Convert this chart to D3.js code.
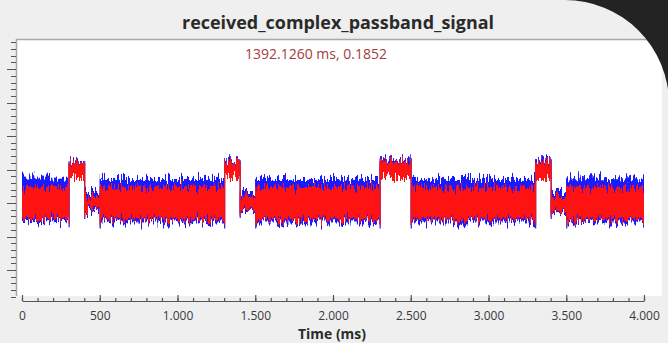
<!DOCTYPE html>
<html>
<head>
<meta charset="utf-8">
<script src="https://cdn.jsdelivr.net/npm/d3@7/dist/d3.min.js"></script>
<style>
  html, body { margin: 0; padding: 0; background: #efefef; overflow: hidden; }
  svg { display: block; }
</style>
</head>
<body>
<svg id="chart" width="668" height="343"></svg>
<script>
// ---- data ----
const title = 'received_complex_passband_signal';
const xLabel = 'Time (ms)';
const marker = '1392.1260 ms, 0.1852';

// signal segments (ms)
const segStart = [0, 300, 400, 500, 1300, 1400, 1500, 2300, 2500, 3300, 3400, 3500];
const segEnd   = [300, 400, 500, 1300, 1400, 1500, 2300, 2500, 3300, 3400, 3500, 4000];
// envelope of each trace per segment
const blueTop = [0.176, 0.225, 0.136, 0.172, 0.228, 0.136, 0.172, 0.234, 0.172, 0.231, 0.133, 0.174];
const blueBot = [0.046, 0.172, 0.070, 0.042, 0.175, 0.073, 0.042, 0.172, 0.042, 0.169, 0.070, 0.042];
const redTop  = [0.148, 0.219, 0.118, 0.148, 0.222, 0.121, 0.148, 0.225, 0.148, 0.222, 0.115, 0.148];
const redBot  = [0.055, 0.172, 0.076, 0.052, 0.175, 0.079, 0.052, 0.172, 0.052, 0.169, 0.076, 0.052];

const xTicks = [0, 500, 1000, 1500, 2000, 2500, 3000, 3500, 4000];
const xTickLabels = ['0', '500', '1.000', '1.500', '2.000', '2.500', '3.000', '3.500', '4.000'];
const yMajor = [-0.1, 0, 0.1, 0.2, 0.3, 0.4, 0.5];

// ---- layout ----
const svg = d3.select('#chart');
const W = 668, H = 343;
const canvas = { x: 17, y: 40, w: 645, h: 256 };

let x = d3.scaleLinear().domain([0, 4000]).range([22, 644]);
let y = d3.scaleLinear().domain([-0.18, 0.587]).range([296.8, 40]);

// defs: jagged-edge filter for the noisy traces
let defs = svg.append('defs');
let jag = defs.append('filter')
  .attr('id', 'jag')
  .attr('filterUnits', 'userSpaceOnUse')
  .attr('x', 0).attr('y', 0).attr('width', W).attr('height', H)
  .attr('color-interpolation-filters', 'sRGB');
jag.append('feTurbulence')
  .attr('type', 'fractalNoise')
  .attr('baseFrequency', '0.7 0.06')
  .attr('numOctaves', 2)
  .attr('seed', 3)
  .attr('result', 'noise');
jag.append('feColorMatrix')
  .attr('in', 'noise')
  .attr('type', 'matrix')
  .attr('values', '0 0 0 0 0.5  0 1.6 0 0 -0.3  0 0 0 0 0  0 0 0 0 1')
  .attr('result', 'ymap');
jag.append('feDisplacementMap')
  .attr('in', 'SourceGraphic')
  .attr('in2', 'ymap')
  .attr('scale', 14)
  .attr('xChannelSelector', 'R')
  .attr('yChannelSelector', 'G');

// canvas
svg.append('rect')
  .attr('x', canvas.x).attr('y', canvas.y)
  .attr('width', canvas.w).attr('height', canvas.h)
  .attr('fill', '#ffffff');

// traces
let segs = d3.range(segStart.length);
let plot = svg.append('g');

function drawTrace(top, bot, color) {
  let g = plot.append('g').attr('filter', 'url(#jag)');
  g.selectAll('rect')
    .data(segs)
    .enter().append('rect')
    .attr('x', i => x(segStart[i]))
    .attr('width', i => x(segEnd[i]) - x(segStart[i]))
    .attr('y', i => y(top[i]))
    .attr('height', i => y(bot[i]) - y(top[i]))
    .attr('fill', color);
  // joins between segments
  plot.append('g').selectAll('line')
    .data(segs.slice(1))
    .enter().append('line')
    .attr('x1', i => x(segStart[i]) + 0.5)
    .attr('x2', i => x(segStart[i]) + 0.5)
    .attr('y1', i => y(Math.max(top[i], top[i - 1])))
    .attr('y2', i => y(Math.min(bot[i], bot[i - 1])) + 6)
    .attr('stroke', color)
    .attr('stroke-width', 1.2);
}
drawTrace(blueTop, blueBot, '#1a1aff');
drawTrace(redTop, redBot, '#ff1212');

// canvas frame (top + left)
svg.append('path')
  .attr('d', `M${canvas.x - 0.5},${canvas.y + canvas.h} V${canvas.y - 0.5} H${canvas.x + canvas.w}`)
  .attr('fill', 'none')
  .attr('stroke', '#a8a8a8')
  .attr('stroke-width', 1.5);

// y axis ticks (no labels)
let yMinor = d3.range(-9, 30).map(k => k * 0.02).filter(v => v >= -0.18 && v <= 0.586);
let yg = svg.append('g').attr('transform', 'translate(16, 0)');
yg.selectAll('line.minor')
  .data(yMinor)
  .enter().append('line')
  .attr('class', 'minor')
  .attr('x1', -5).attr('x2', 0)
  .attr('y1', d => Math.round(y(d)) + 0.5)
  .attr('y2', d => Math.round(y(d)) + 0.5)
  .attr('stroke', '#555')
  .attr('stroke-width', 1);
yg.selectAll('line.major')
  .data(yMajor)
  .enter().append('line')
  .attr('class', 'major')
  .attr('x1', -9).attr('x2', 0)
  .attr('y1', d => Math.round(y(d)) + 0.5)
  .attr('y2', d => Math.round(y(d)) + 0.5)
  .attr('stroke', '#555')
  .attr('stroke-width', 1);

// x axis
let xg = svg.append('g').attr('transform', 'translate(0, 301)');
xg.call(d3.axisBottom(x)
  .tickValues(d3.range(0, 4001, 100))
  .tickSizeInner(-3)
  .tickSizeOuter(0)
  .tickFormat(''));
xg.call(g => g.selectAll('text').remove());
let xg2 = svg.append('g').attr('transform', 'translate(0, 301)');
xg2.call(d3.axisBottom(x)
  .tickValues(xTicks)
  .tickSizeInner(-6)
  .tickSizeOuter(0)
  .tickPadding(10)
  .tickFormat((d, i) => xTickLabels[i]));
xg2.select('.domain').remove();
svg.selectAll('.tick line, .domain').attr('stroke', '#555').attr('stroke-width', 1.2);
xg2.selectAll('text')
  .attr('fill', '#3a3a3a')
  .attr('font-family', '"Open Sans", sans-serif')
  .attr('font-size', 12);

// texts
function fit(sel, width) {
  let len = sel.node().getComputedTextLength();
  let fs = parseFloat(sel.attr('font-size'));
  sel.attr('font-size', (fs * width / len).toFixed(2));
}

let t = svg.append('text')
  .attr('x', 338).attr('y', 29)
  .attr('text-anchor', 'middle')
  .attr('font-family', '"Open Sans", sans-serif')
  .attr('font-weight', 'bold')
  .attr('font-size', 16)
  .attr('fill', '#2a2a2a')
  .text(title);
fit(t, 312);

let m = svg.append('text')
  .attr('x', 316).attr('y', 59)
  .attr('text-anchor', 'middle')
  .attr('font-family', '"Open Sans", sans-serif')
  .attr('font-size', 12.5)
  .attr('fill', '#a33c3c')
  .text(marker);
fit(m, 142);

let xl = svg.append('text')
  .attr('x', 332).attr('y', 339)
  .attr('text-anchor', 'middle')
  .attr('font-family', '"Open Sans", sans-serif')
  .attr('font-weight', 'bold')
  .attr('font-size', 13)
  .attr('fill', '#2a2a2a')
  .text(xLabel);
fit(xl, 68);

// dark rounded window corner
svg.append('path')
  .attr('d', 'M565,0 H668 V104 H669 A104,104 0 0 0 565,0 Z')
  .attr('fill', '#232323');
</script>
</body>
</html>
